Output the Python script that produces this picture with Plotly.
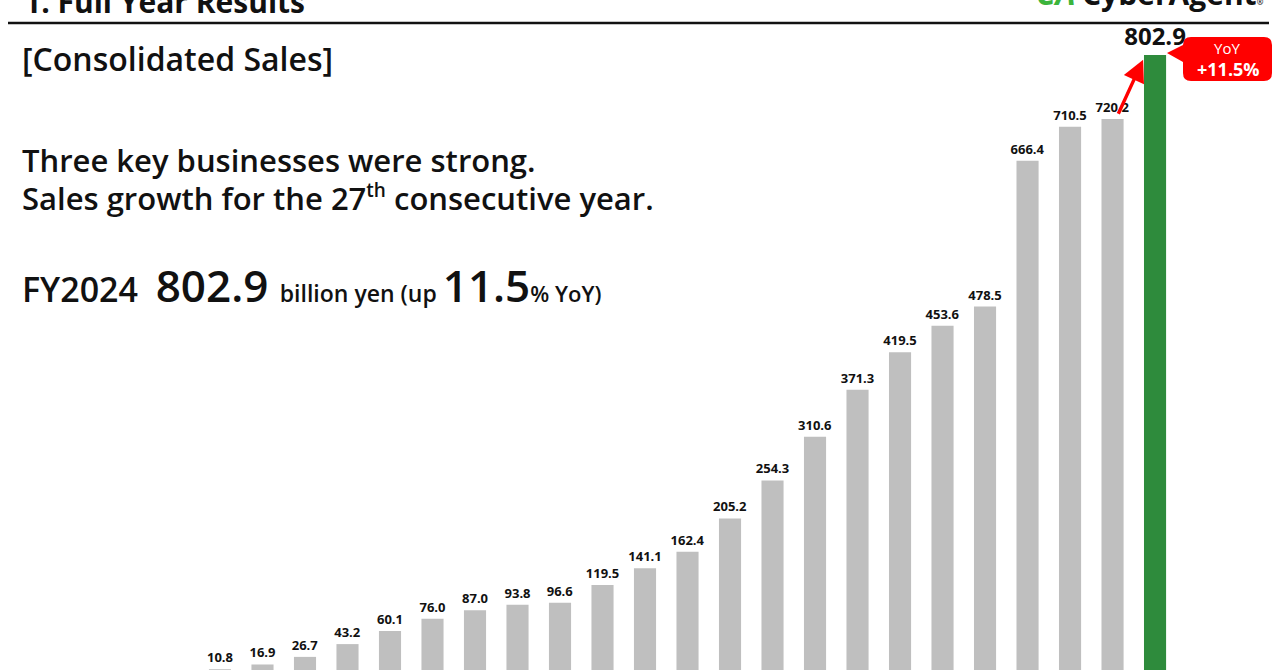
import plotly.graph_objects as go

# consolidated sales, billion yen (FY1998 - FY2024)
years = ["FY%d" % y for y in range(1998, 2025)]
sales = [0.4, 1.0, 2.9, 4.6, 10.8, 16.9, 26.7, 43.2, 60.1, 76.0, 87.0, 93.8, 96.6,
         119.5, 141.1, 162.4, 205.2, 254.3, 310.6, 371.3, 419.5, 453.6, 478.5,
         666.4, 710.5, 720.2, 802.9]
yoy_text = "+11.5%"

W, H = 1280, 670
GRAY = "#bfbfbf"
GREEN = "#2e8b3c"
RED = "#ff0000"
FONT = "Open Sans"
INK = "#111111"

def px(x):
    return x / W

def py(y):
    return 1 - y / H

def pt(x, y):
    return "%f,%f" % (px(x), py(y))

def note(x, y, text, size, xanchor="left", yanchor="middle", color=INK, weight=600):
    fig.add_annotation(x=px(x), y=py(y), xref="paper", yref="paper", showarrow=False,
                       xanchor=xanchor, yanchor=yanchor, text=text,
                       font=dict(family=FONT, size=size, color=color, weight=weight))

n = len(sales)
colors = [GRAY] * (n - 1) + [GREEN]
label_sizes = [13] * (n - 1) + [24]
labels = ["%.1f" % v for v in sales]

fig = go.Figure()
fig.add_trace(go.Bar(
    x=list(range(n)), y=sales,
    marker=dict(color=colors, line=dict(width=0)),
    width=0.52,
    text=labels, textposition="outside", constraintext="none",
    textfont=dict(family=FONT, size=label_sizes, color=INK, weight="bold"),
    cliponaxis=False,
    hovertext=years, hoverinfo="text+y",
))

# red arrow from previous year to FY2024
fig.add_annotation(
    x=n - 1 - 0.28, y=sales[-1] - 6, ax=n - 2 + 0.12, ay=sales[-2] + 5,
    xref="x", yref="y", axref="x", ayref="y",
    showarrow=True, arrowhead=2, arrowsize=1.3, arrowwidth=3.4, arrowcolor=RED, text="",
)

# YoY callout bubble
x0, x1, y0, y1, r = 1183, 1272, 37, 81, 8
path = " ".join([
    "M", pt(x0 + r, y0), "L", pt(x1 - r, y0), "Q", pt(x1, y0), pt(x1, y0 + r),
    "L", pt(x1, y1 - r), "Q", pt(x1, y1), pt(x1 - r, y1),
    "L", pt(x0 + r, y1), "Q", pt(x0, y1), pt(x0, y1 - r),
    "L", pt(x0, 62), "L", pt(1167, 53), "L", pt(x0, 45),
    "L", pt(x0, y0 + r), "Q", pt(x0, y0), pt(x0 + r, y0), "Z",
])
fig.add_shape(type="path", path=path, xref="paper", yref="paper",
              fillcolor=RED, line=dict(width=0))
note(1227, 48, "YoY", 15, xanchor="center", color="white", weight=400)
note(1228, 69, "<b>%s</b>" % yoy_text, 18, xanchor="center", color="white")

# header line, title and logo
fig.add_shape(type="line", x0=px(8), x1=px(1269), y0=py(23), y1=py(23),
              xref="paper", yref="paper", line=dict(color=INK, width=2.5))
note(22, 24, "<b>1. Full Year Results</b>", 30, yanchor="bottom")
note(1080, 16, "<b>CyberAgent</b><span style='font-size:8px'>®</span>", 30, yanchor="bottom")
note(1034, 16, "<b><i>CA</i></b>", 32, yanchor="bottom", color="#3cb43c")

# slide texts
note(20, 59, "[Consolidated Sales]", 32)
note(20, 160, "Three key businesses were strong.", 31)
note(20, 198, "Sales growth for the 27<sup><span style='font-size:19px'>th</span></sup> consecutive year.", 31)
note(20, 285, ("FY2024&nbsp; <span style='font-size:44px'>802.9 </span>"
               "<span style='font-size:23px'>billion yen (up </span>"
               "<span style='font-size:44px'>11.5</span>"
               "<span style='font-size:22px'>% YoY)</span>"), 34)

fig.update_layout(
    width=W, height=H,
    margin=dict(l=0, r=0, t=0, b=0),
    paper_bgcolor="white", plot_bgcolor="white",
    showlegend=False,
    bargap=0.48,
    xaxis=dict(range=[-1.176, 28.94], visible=False),
    yaxis=dict(range=[9.8, 873.8], visible=False),
)

fig.write_html("out.html", config={"displayModeBar": False},
               post_script="document.body.style.margin='0px';")
